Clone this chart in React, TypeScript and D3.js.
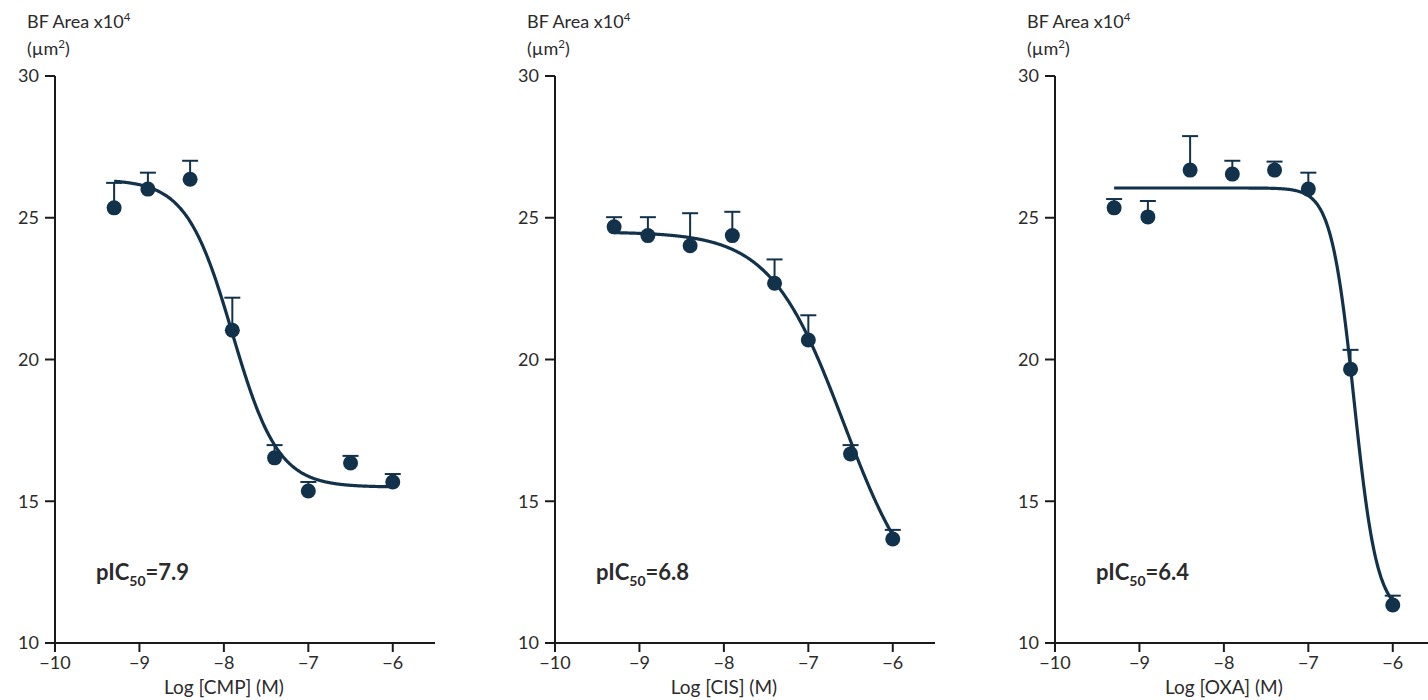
import React from "react";
import * as d3 from "d3";

// Log concentrations (M)
const logConc = [-9.3, -8.9, -8.4, -7.9, -7.4, -7.0, -6.5, -6.0];

// Panel names
const drugs = ["CMP", "CIS", "OXA"];
const pIC50Labels = ["7.9", "6.8", "6.4"];

// Mean BF area (x10^4 µm²) per drug
const cmpMean = [25.35, 26.01, 26.36, 21.03, 16.53, 15.36, 16.35, 15.68];
const cmpErr = [0.88, 0.58, 0.65, 1.15, 0.45, 0.32, 0.25, 0.28];
const cisMean = [24.68, 24.37, 24.01, 24.37, 22.69, 20.69, 16.67, 13.67];
const cisErr = [0.34, 0.65, 1.15, 0.84, 0.84, 0.87, 0.31, 0.32];
const oxaMean = [25.35, 25.03, 26.68, 26.54, 26.68, 26.01, 19.66, 11.34];
const oxaErr = [0.31, 0.56, 1.2, 0.47, 0.3, 0.58, 0.68, 0.33];

// Fitted 4-parameter logistic curves: [top, bottom, logIC50, hill]
const cmpFit = [26.35, 15.5, -7.9, 1.6];
const cisFit = [24.5, 11.0, -6.58, 1.0];
const oxaFit = [26.05, 11.0, -6.4575, 3.2];

const xTicks = [-10, -9, -8, -7, -6];
const yTicks = [10, 15, 20, 25, 30];

const means = [cmpMean, cisMean, oxaMean];
const errs = [cmpErr, cisErr, oxaErr];
const fits = [cmpFit, cisFit, oxaFit];

const NAVY = "#12314a";
const INK = "#2b2b2b";
const FONT = "Lato, 'Open Sans', sans-serif";

function Panel({ idx }: { idx: number }) {
  const ox = idx * 500;
  const x = d3.scaleLinear().domain([-10, -5.5]).range([55, 435]);
  const y = d3.scaleLinear().domain([10, 30]).range([643, 76]);
  const [top, bottom, c, h] = fits[idx];
  const curveX = d3.range(0, 331).map((i) => -9.3 + (i * 3.3) / 330);
  const line = d3
    .line<number>()
    .x((v) => x(v))
    .y((v) => y(bottom + (top - bottom) / (1 + Math.pow(10, (v - c) * h))))
    .curve(d3.curveMonotoneX);
  const m = means[idx];
  const e = errs[idx];
  return (
    <g transform={`translate(${ox},0)`}>
      {/* y axis label */}
      <text x={27} y={28} fontSize={18} fill={INK} fontFamily={FONT}>
        BF Area x10
        <tspan fontSize={11.5} dy={-7}>4</tspan>
      </text>
      <text x={27} y={55} fontSize={18} fill={INK} fontFamily={FONT}>
        (µm
        <tspan fontSize={11.5} dy={-7}>2</tspan>
        <tspan dy={7}>)</tspan>
      </text>
      {/* axes */}
      <line x1={x(-10)} x2={x(-10)} y1={y(30)} y2={y(10)} stroke="#1a1a1a" strokeWidth={2} />
      <line x1={x(-10)} x2={x(-5.5)} y1={y(10)} y2={y(10)} stroke="#1a1a1a" strokeWidth={2} />
      {yTicks.map((t) => (
        <g key={"y" + t}>
          <line x1={x(-10) - 10} x2={x(-10)} y1={y(t)} y2={y(t)} stroke="#1a1a1a" strokeWidth={2} />
          <text x={x(-10) - 16} y={y(t)} dy="0.35em" textAnchor="end" fontSize={18} fill={INK} fontFamily={FONT}>
            {t}
          </text>
        </g>
      ))}
      {xTicks.map((t) => (
        <g key={"x" + t}>
          <line x1={x(t)} x2={x(t)} y1={y(10)} y2={y(10) + 9} stroke="#1a1a1a" strokeWidth={2} />
          <text x={x(t)} y={669} textAnchor="middle" fontSize={18} fill={INK} fontFamily={FONT}>
            {"\u2212" + Math.abs(t)}
          </text>
        </g>
      ))}
      <text x={x(-8)} y={694} textAnchor="middle" fontSize={19} fill={INK} fontFamily={FONT}>
        {`Log [${drugs[idx]}] (M)`}
      </text>
      {/* error bars */}
      {logConc.map((lc, i) => (
        <g key={"e" + i} stroke={NAVY} strokeWidth={2}>
          <line x1={x(lc)} x2={x(lc)} y1={y(m[i])} y2={y(m[i] + e[i])} />
          <line x1={x(lc) - 8} x2={x(lc) + 8} y1={y(m[i] + e[i])} y2={y(m[i] + e[i])} />
        </g>
      ))}
      {/* curve */}
      <path d={line(curveX) || ""} fill="none" stroke={NAVY} strokeWidth={3.2} />
      {/* points */}
      {logConc.map((lc, i) => (
        <circle key={"p" + i} cx={x(lc)} cy={y(m[i])} r={7.5} fill={NAVY} />
      ))}
      {/* pIC50 */}
      <text x={96} y={580} fontSize={22} fontWeight="bold" fill={INK} fontFamily={FONT}>
        pIC
        <tspan fontSize={14} dy={6}>50</tspan>
        <tspan dy={-6}>{"=" + pIC50Labels[idx]}</tspan>
      </text>
    </g>
  );
}

export default function App() {
  return (
    <svg
      width={1428}
      height={700}
      style={{ position: "absolute", top: 0, left: 0, background: "#fff" }}
    >
      <rect width={1428} height={700} fill="#fff" />
      {[0, 1, 2].map((i) => (
        <Panel key={i} idx={i} />
      ))}
    </svg>
  );
}
